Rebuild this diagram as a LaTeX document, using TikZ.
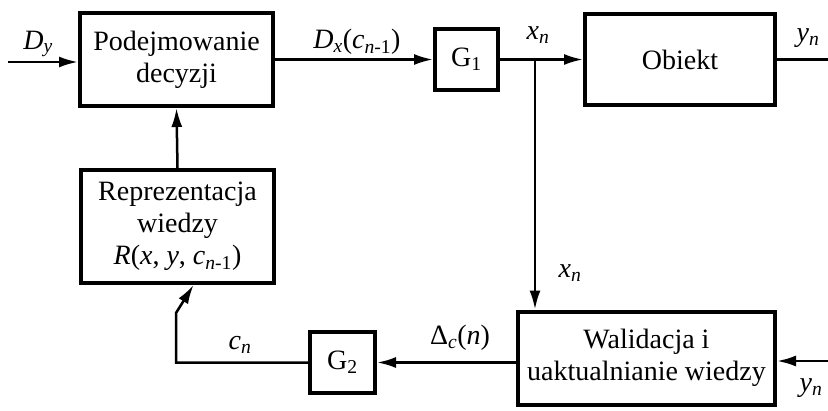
\documentclass[tikz,border=0pt]{standalone}
\usepackage{fontspec}
\setmainfont{Liberation Serif}
\usetikzlibrary{arrows.meta}
\newcommand{\sbs}[1]{\textsubscript{#1}}
\begin{document}
\begin{tikzpicture}[x=1pt,y=-1pt,
  blk/.style={draw, line width=4pt, align=center, inner sep=0pt, font=\fontsize{28}{32}\selectfont},
  lbl/.style={font=\fontsize{28}{32}\selectfont, inner sep=0pt},
  conn/.style={line width=2.5pt, -{Latex[length=19pt,width=11pt]}},
  wire/.style={line width=2.5pt}]
\useasboundingbox (0,0) rectangle (828,410);
\node[blk, minimum width=193pt, minimum height=93pt] (pd) at (176.5,59.5) {Podejmowanie\\decyzji};
\node[blk, minimum width=63pt, minimum height=61pt] (g1) at (466.5,59.5) {G\sbs{1}};
\node[blk, minimum width=190pt, minimum height=91pt] (ob) at (680,59.5) {Obiekt};
\node[blk, minimum width=193pt, minimum height=113pt] (rep) at (177.5,226.5) {Reprezentacja\\wiedzy\\\textit{R}(\textit{x}, \textit{y}, \textit{c}\sbs{\textit{n}-1})};
\node[blk, minimum width=65pt, minimum height=61pt] (g2) at (342.5,362.5) {G\sbs{2}};
\node[blk, minimum width=257pt, minimum height=93pt] (wal) at (646.5,358) {Walidacja i\\uaktualnianie wiedzy};
\coordinate (in) at (8,62);
\coordinate (jn) at (535,59.5);
\coordinate (out) at (828,59.5);
\coordinate (yin) at (828,361);
\coordinate (cb) at (176,362.5);
\coordinate (ck) at (176,313);
\draw[conn] (in) -- (in -| pd.west);
\draw[conn] (pd.east) -- (g1.west);
\draw[wire] (g1.east) -- (jn);
\draw[conn] (jn) -- (ob.west);
\draw[wire] (ob.east) -- (out);
\draw[conn] (jn) -- (jn |- wal.north);
\draw[conn] (yin) -- (yin -| wal.east);
\draw[conn] (g2.east -| wal.west) -- (g2.east);
\draw[conn] (g2.west) -- (cb) -- (ck) -- ([xshift=16pt]rep.south);
\draw[conn] (rep.north) -- (pd.south);
\node[lbl] (ldy) at (38,44) {\textit{D}\sbs{\textit{y}}};
\node[lbl] (ldx) at (357,42) {\textit{D}\sbs{\textit{x}}(\textit{c}\sbs{\textit{n}-1})};
\node[lbl] (lx1) at (538,35) {\textit{x}\sbs{\textit{n}}};
\node[lbl] (ly1) at (808,38) {\textit{y}\sbs{\textit{n}}};
\node[lbl] (lx2) at (570,273) {\textit{x}\sbs{\textit{n}}};
\node[lbl] (ldc) at (460,338) {Δ\sbs{\textit{c}}(\textit{n})};
\node[lbl] (lcn) at (240,345) {\textit{c}\sbs{\textit{n}}};
\node[lbl] (ly2) at (811,388) {\textit{y}\sbs{\textit{n}}};
\end{tikzpicture}
\end{document}
